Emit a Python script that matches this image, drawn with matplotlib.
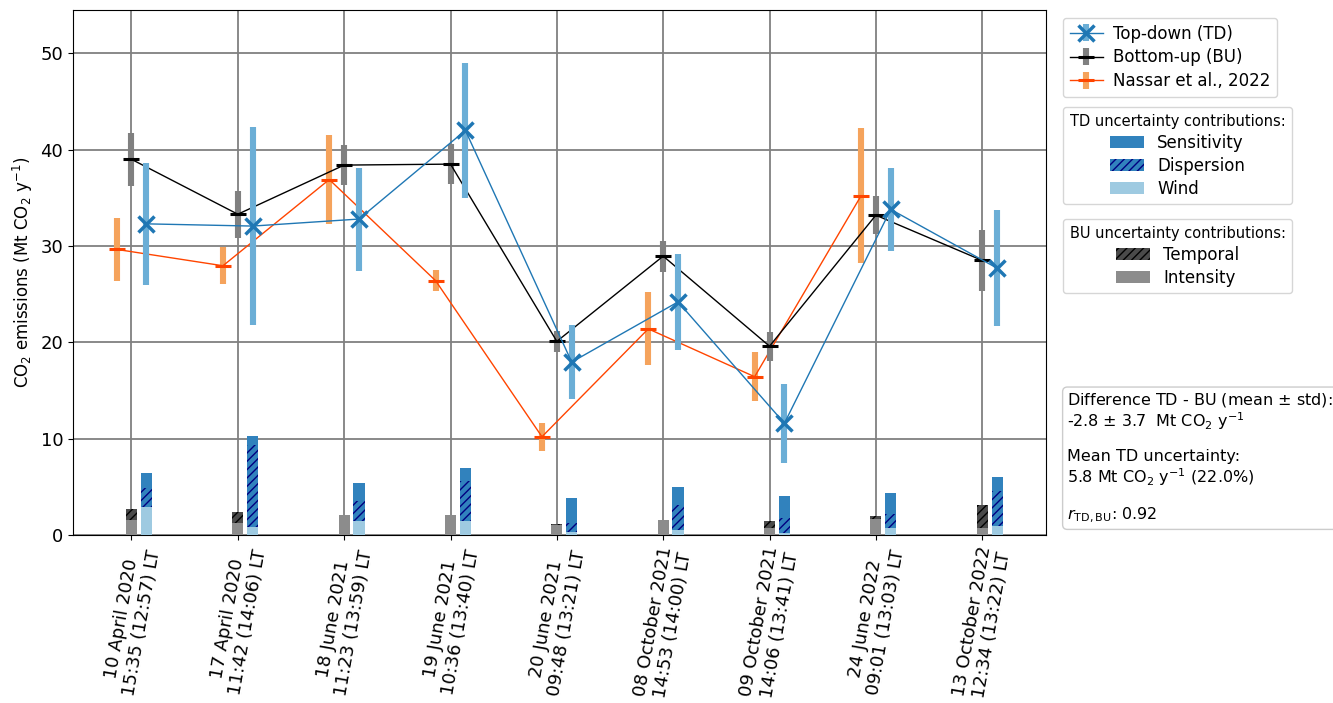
import numpy as np
import matplotlib
matplotlib.use("Agg")
import matplotlib.pyplot as plt
from matplotlib.patches import Patch

# ---------------- data ----------------
labels = ["10 April 2020\n15:35 (12:57) LT", "17 April 2020\n11:42 (14:06) LT",
          "18 June 2021\n11:23 (13:59) LT", "19 June 2021\n10:36 (13:40) LT",
          "20 June 2021\n09:48 (13:21) LT", "08 October 2021\n14:53 (14:00) LT",
          "09 October 2021\n14:06 (13:41) LT", "24 June 2022\n09:01 (13:03) LT",
          "13 October 2022\n12:34 (13:22) LT"]

td = [32.3, 32.07, 32.8, 42.0, 17.95, 24.2, 11.6, 33.8, 27.7]
td_err = [6.3, 10.3, 5.35, 7.0, 3.8, 5.0, 4.1, 4.35, 6.05]
bu = [39.0, 33.3, 38.4, 38.5, 20.1, 28.95, 19.6, 33.2, 28.5]
bu_err = [2.75, 2.45, 2.1, 2.1, 1.1, 1.6, 1.5, 1.95, 3.15]
nassar = [29.65, 27.95, 36.9, 26.4, 10.2, 21.4, 16.43, 35.2]
nassar_err = [3.3, 1.9, 4.6, 1.1, 1.45, 3.8, 2.55, 7.0]

td_wind = [2.94, 0.87, 1.49, 1.42, 0.30, 0.48, 0.17, 0.69, 0.90]
td_disp = [1.90, 8.47, 2.07, 4.15, 0.98, 2.63, 1.59, 1.49, 3.63]
td_sens = [1.56, 0.90, 1.84, 1.42, 2.52, 1.91, 2.32, 2.21, 1.53]
bu_intensity = [1.59, 1.28, 2.11, 2.09, 1.05, 1.59, 0.73, 1.66, 0.69]
bu_temporal = [1.14, 1.14, 0.0, 0.03, 0.05, 0.0, 0.76, 0.28, 2.46]

stats_text = ("Difference TD - BU (mean $\\pm$ std):\n-2.8 $\\pm$ 3.7  Mt CO$_2$ y$^{-1}$\n\n"
              "Mean TD uncertainty:\n5.8 Mt CO$_2$ y$^{-1}$ (22.0%)\n\n"
              "$r_\\mathrm{TD,BU}$: 0.92")

# ---------------- plot ----------------
fig = plt.figure(figsize=(13.33, 7.03), dpi=100)
ax = fig.add_axes([73/1333, 1-535/703, (1046-73)/1333, (535-10)/703])

x = np.arange(len(labels))
xn = np.arange(len(nassar))
off = 0.14
bw = 0.105

c_td = "#1f77b4"
c_td_err = "#6baed6"
c_nas = "#ff4500"
c_nas_err = "#f5a35c"

h_td = ax.errorbar(x + off, td, yerr=td_err, fmt='-', color=c_td, lw=1.0,
                   marker='x', ms=11, mew=2.5, ecolor=c_td_err, elinewidth=4.4,
                   capsize=0, zorder=5, label="Top-down (TD)")
h_bu = ax.errorbar(x, bu, yerr=bu_err, fmt='-', color='black', lw=1.0,
                   marker='_', ms=11, mew=2.2, ecolor='gray', elinewidth=4.4,
                   capsize=0, zorder=4, label="Bottom-up (BU)")
h_nas = ax.errorbar(xn - off, nassar, yerr=nassar_err, fmt='-', color=c_nas, lw=1.0,
                    marker='_', ms=11, mew=2.2, ecolor=c_nas_err, elinewidth=4.4,
                    capsize=0, zorder=3, label="Nassar et al., 2022")

# stacked uncertainty bars
c_sens = "#3182bd"
c_wind = "#9ecae1"
c_temp = "#4a4a4a"
c_int = "#8c8c8c"
ax.bar(x + off, td_wind, width=bw, color=c_wind, zorder=3)
ax.bar(x + off, td_disp, width=bw, bottom=td_wind, facecolor=c_sens,
       edgecolor='navy', hatch='////', lw=0, zorder=3)
bot = np.array(td_wind) + np.array(td_disp)
ax.bar(x + off, td_sens, width=bw, bottom=bot, color=c_sens, zorder=3)

ax.bar(x, bu_intensity, width=bw, color=c_int, zorder=3)
ax.bar(x, bu_temporal, width=bw, bottom=bu_intensity, facecolor=c_temp,
       edgecolor='black', hatch='////', lw=0, zorder=3)

ax.set_xlim(-0.55, 8.6)
ax.set_ylim(0, 54.5)
ax.set_xticks(x)
ax.set_xticklabels(labels, rotation=80, ha='center', fontsize=13)
ax.tick_params(axis='y', labelsize=13)
ax.set_ylabel("CO$_2$ emissions (Mt CO$_2$ y$^{-1}$)", fontsize=12)
ax.set_axisbelow(True)
ax.grid(True, color='gray', lw=1.3)

leg1 = ax.legend(handles=[h_td, h_bu, h_nas], loc='upper left',
                 bbox_to_anchor=(1.0175, 0.985), borderaxespad=0, fontsize=12,
                 handletextpad=0.6, labelspacing=0.35)
ax.add_artist(leg1)

td_handles = [Patch(facecolor=c_sens, label="Sensitivity"),
              Patch(facecolor=c_sens, edgecolor='navy', hatch='////', lw=0, label="Dispersion"),
              Patch(facecolor=c_wind, label="Wind")]
leg2 = ax.legend(handles=td_handles, loc='upper left', bbox_to_anchor=(1.0175, 0.815),
                 borderaxespad=0, fontsize=12, title="TD uncertainty contributions:",
                 title_fontsize=10.5, labelspacing=0.3)
ax.add_artist(leg2)

bu_handles = [Patch(facecolor=c_temp, edgecolor='black', hatch='////', lw=0, label="Temporal"),
              Patch(facecolor=c_int, label="Intensity")]
ax.legend(handles=bu_handles, loc='upper left', bbox_to_anchor=(1.0175, 0.602),
          borderaxespad=0, fontsize=12, title="BU uncertainty contributions:",
          title_fontsize=10.5, labelspacing=0.3)

ax.text(1.022, 0.275, stats_text, transform=ax.transAxes, fontsize=11.5,
        va='top', ha='left', linespacing=1.1,
        bbox=dict(boxstyle='round,pad=0.3', facecolor='white', edgecolor='0.8'))

fig.savefig("out.png", dpi=100)
